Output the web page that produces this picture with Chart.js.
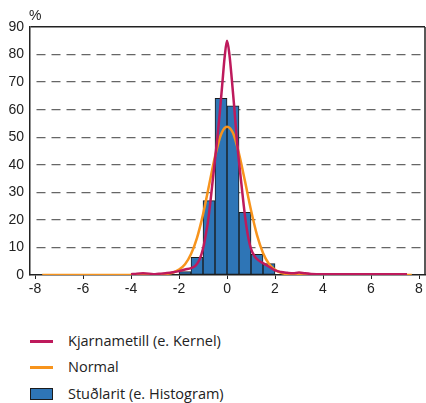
<!DOCTYPE html>
<html><head><meta charset="utf-8">
<script src="https://cdn.jsdelivr.net/npm/chart.js@4"></script>
<style>
html,body{margin:0;padding:0;background:#fff;width:426px;height:403px;overflow:hidden;}
#wrap{position:absolute;left:0;top:0;width:426px;height:300px;}
.leg{position:absolute;left:0;font-family:"Open Sans",Lato,sans-serif;font-size:14.5px;color:#222;white-space:nowrap;}
.leg .sw{position:absolute;left:30px;}
.leg .tx{position:absolute;left:68px;top:-10px;}
</style></head>
<body>
<div id="wrap"><canvas id="c" width="426" height="300"></canvas></div>
<div id="legend"></div>
<script>
// Histogram bins (centres of 0.5-wide bins) and heights (%)
const binCenters = [-1.75, -1.25, -0.75, -0.25, 0.25, 0.75, 1.25, 1.75];
const histValues = [1.2, 6.4, 27, 64.1, 61.4, 22.7, 7.5, 4.1];

// Kernel density curve
const kernelX = [-4.0,-3.75,-3.5,-3.25,-3.0,-2.75,-2.5,-2.25,-2.0,-1.75,-1.5,-1.3,-1.15,-1.0,-0.9,-0.8,-0.7,-0.6,-0.5,-0.4,-0.3,-0.2,-0.1,0,0.1,0.2,0.3,0.4,0.5,0.6,0.7,0.8,0.9,1.0,1.15,1.3,1.5,1.75,2.0,2.25,2.5,2.75,3.0,3.25,3.5,4,5,6,7,7.5];
const kernelY = [0.3,0.5,0.6,0.5,0.3,0.5,0.7,1.0,1.4,2.0,2.5,3.5,5.5,9.5,14,19,26,34,42,50,59,69,79,85,80,71,61,50,41,33,25,18,13,9.5,6.8,5.4,4.3,3.0,1.7,1.1,0.8,0.6,0.9,0.6,0.4,0.3,0.3,0.3,0.3,0.3];

// Normal curve
const normalX = [-7.7,-7,-6,-5,-4,-3.5,-3,-2.75,-2.5,-2.25,-2.0,-1.75,-1.5,-1.25,-1.0,-0.75,-0.5,-0.25,0,0.25,0.5,0.75,1.0,1.25,1.5,1.75,2.0,2.25,2.5,2.75,3,4,5,6,7,7.7];
const normalY = [0,0,0,0,0,0.05,0.1,0.2,0.4,0.9,2.0,3.9,7.6,13.5,22,32.5,43,51,53.8,51.5,44,34,23.5,14.5,8,4,1.9,0.8,0.3,0.1,0.05,0,0,0,0,0];

const xTicks = [-8,-6,-4,-2,0,2,4,6,8];
const yTicks = [0,10,20,30,40,50,60,70,80,90];

const labels = ['Kjarnametill (e. Kernel)', 'Normal', 'Stuðlarit (e. Histogram)'];
const colKernel = '#be1a5c', colNormal = '#f7941d', colHist = '#2e75b6';

const deco = {
  id:'deco',
  afterDraw(chart){
    const c = chart.ctx, a = chart.chartArea; c.save();
    c.font = '14px "Liberation Sans", Arial, sans-serif';
    c.fillStyle = '#222'; c.textAlign='left'; c.textBaseline='middle';
    c.fillText('%', a.left - 1, 16);
    c.strokeStyle = '#222'; c.lineWidth = 1.5;
    c.beginPath(); c.moveTo(a.right, a.top); c.lineTo(a.right, a.bottom); c.stroke();
    c.restore();
  }
};

new Chart(document.getElementById('c'), {
  type: 'scatter',
  data: {
    datasets: [
      { type:'line', label: labels[0], data: kernelX.map((x,i)=>({x, y:kernelY[i]})),
        borderColor: colKernel, borderWidth: 2.5, pointRadius: 0, cubicInterpolationMode:'monotone', fill:false, showLine:true, order:0 },
      { type:'line', label: labels[1], data: normalX.map((x,i)=>({x, y:normalY[i]})),
        borderColor: colNormal, borderWidth: 2.5, pointRadius: 0, cubicInterpolationMode:'monotone', fill:false, showLine:true, order:1 },
      { type:'bar', label: labels[2], data: binCenters.map((x,i)=>({x, y:histValues[i]})),
        backgroundColor: colHist, borderColor: '#1b1b1b', borderWidth: 1, borderSkipped: false,
        barPercentage: 1, categoryPercentage: 1, order:2 }
    ]
  },
  options: {
    responsive:false, animation:false,
    layout:{ padding:{ top:27, left:0, right:1, bottom:0 } },
    plugins:{ legend:{display:false}, tooltip:{enabled:false} },
    scales:{
      x:{ type:'linear', min:-8.21, max:8.25, offset:false,
        afterBuildTicks: s => { s.ticks = xTicks.map(v=>({value:v})); },
        afterFit: s => { s.height = 25; },
        grid:{ offset:false, drawOnChartArea:false, drawTicks:true, tickLength:4, color:'#222', lineWidth:1 },
        border:{ display:true, color:'#222', width:1.5 },
        ticks:{ font:{ family:'"Liberation Sans", Arial, sans-serif', size:14 }, color:'#222', padding:2, maxRotation:0, autoSkip:false }
      },
      y:{ type:'linear', min:0, max:90,
        afterBuildTicks: s => { s.ticks = yTicks.map(v=>({value:v})); },
        afterFit: s => { s.width = 30; },
        grid:{ drawTicks:false,
          color: ctx => ctx.tick && ctx.tick.value === 90 ? '#222' : (ctx.tick && ctx.tick.value === 0 ? 'rgba(0,0,0,0)' : '#666'),
          lineWidth: ctx => ctx.tick && ctx.tick.value === 90 ? 1.5 : 1.3 },
        border:{ display:true, color:'#222', width:1.5,
          dash: ctx => ctx.tick && ctx.tick.value === 90 ? [] : [9,6], dashOffset: -6 },
        ticks:{ font:{ family:'"Liberation Sans", Arial, sans-serif', size:14 }, color:'#222', padding:6 }
      }
    }
  },
  plugins:[deco]
});

// HTML legend
const leg = document.getElementById('legend');
const ys = [341, 367, 394];
labels.forEach((t,i)=>{
  const d = document.createElement('div'); d.className='leg'; d.style.top = ys[i]+'px';
  const sw = document.createElement('div'); sw.className='sw';
  if (i<2){ sw.style.cssText += 'width:23px;height:3px;top:-1.5px;background:'+(i===0?colKernel:colNormal)+';'; }
  else { sw.style.cssText += 'width:21px;height:10px;top:-6px;background:'+colHist+';border:1px solid #1b1b1b;'; }
  const tx = document.createElement('span'); tx.className='tx'; tx.textContent = t;
  d.appendChild(sw); d.appendChild(tx); leg.appendChild(d);
});
</script>
</body></html>
